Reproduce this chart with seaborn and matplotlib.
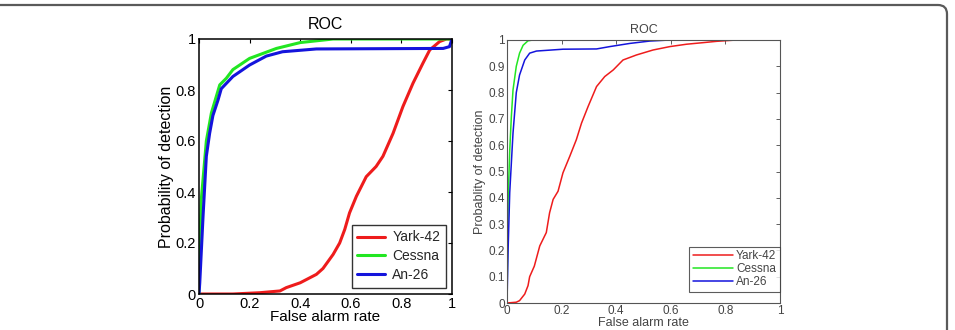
import numpy as np
import pandas as pd
import matplotlib
matplotlib.use("Agg")
import matplotlib.pyplot as plt
import seaborn as sns
from matplotlib.patches import FancyBboxPatch
from matplotlib.transforms import IdentityTransform

# ---------------- data ----------------
series_names = ["Yark-42", "Cessna", "An-26"]
series_colors = ["#ee1c1c", "#22e622", "#1414dc"]

# Left panel
L_yark_x = [0, 0.134, 0.24, 0.32, 0.345, 0.40, 0.464, 0.49, 0.53, 0.556, 0.576, 0.595, 0.622, 0.661, 0.70, 0.727, 0.767, 0.806, 0.846, 0.885, 0.912, 0.951, 0.978, 1.0]
L_yark_y = [0, 0.0, 0.005, 0.012, 0.025, 0.044, 0.077, 0.10, 0.155, 0.20, 0.253, 0.318, 0.383, 0.46, 0.50, 0.54, 0.63, 0.735, 0.827, 0.905, 0.957, 0.99, 1.0, 1.0]
L_cess_x = [0, 0.0, 0.009, 0.029, 0.049, 0.082, 0.108, 0.134, 0.2, 0.306, 0.4, 0.53, 1.0]
L_cess_y = [0, 0.11, 0.37, 0.60, 0.71, 0.82, 0.846, 0.88, 0.924, 0.963, 0.986, 1.0, 1.0]
L_an_x = [0, 0.003, 0.016, 0.029, 0.042, 0.055, 0.075, 0.088, 0.134, 0.2, 0.266, 0.33, 0.464, 0.965, 0.99, 1.0]
L_an_y = [0, 0.044, 0.305, 0.54, 0.63, 0.70, 0.76, 0.805, 0.853, 0.898, 0.933, 0.95, 0.961, 0.963, 0.97, 1.0]

# Right panel
R_yark_x = [0, 0.034, 0.046, 0.065, 0.077, 0.083, 0.10, 0.12, 0.144, 0.156, 0.169, 0.187, 0.205, 0.23, 0.254, 0.273, 0.297, 0.328, 0.358, 0.389, 0.425, 0.474, 0.535, 0.597, 0.658, 0.719, 0.768, 0.84, 1.0]
R_yark_y = [0, 0.003, 0.009, 0.034, 0.066, 0.10, 0.14, 0.217, 0.268, 0.343, 0.394, 0.425, 0.495, 0.558, 0.621, 0.684, 0.747, 0.823, 0.861, 0.886, 0.924, 0.943, 0.962, 0.975, 0.984, 0.99, 0.995, 1.0, 1.0]
R_cess_x = [0, 0.004, 0.01, 0.016, 0.022, 0.034, 0.046, 0.059, 0.077, 0.095, 1.0]
R_cess_y = [0, 0.39, 0.58, 0.71, 0.81, 0.90, 0.95, 0.98, 0.997, 1.0, 1.0]
R_an_x = [0, 0.004, 0.01, 0.022, 0.034, 0.046, 0.065, 0.083, 0.108, 0.205, 0.328, 0.377, 0.45, 0.523, 0.597, 1.0]
R_an_y = [0, 0.2, 0.42, 0.646, 0.80, 0.867, 0.924, 0.95, 0.958, 0.965, 0.966, 0.975, 0.987, 0.996, 1.0, 1.0]

left_xticks = [0, 0.2, 0.4, 0.6, 0.8, 1]
left_yticks = [0, 0.2, 0.4, 0.6, 0.8, 1]
right_xticks = [0, 0.2, 0.4, 0.6, 0.8, 1]
right_yticks = [0, 0.1, 0.2, 0.3, 0.4, 0.5, 0.6, 0.7, 0.8, 0.9, 1]


def fmt(v):
    return "%g" % v


def make_df(xs, ys):
    rows = []
    for name, x, y in zip(series_names, xs, ys):
        for i, (a, b) in enumerate(zip(x, y)):
            rows.append({"series": name, "x": a, "y": b, "order": i})
    return pd.DataFrame(rows)


dfL = make_df([L_yark_x, L_cess_x, L_an_x], [L_yark_y, L_cess_y, L_an_y])
dfR = make_df([R_yark_x, R_cess_x, R_an_x], [R_yark_y, R_cess_y, R_an_y])

sns.set_theme(style="white")
plt.rcParams["font.family"] = ["Liberation Sans", "DejaVu Sans"]

fig = plt.figure(figsize=(9.55, 3.30), dpi=100)
fig.patch.set_facecolor("white")

palette = dict(zip(series_names, series_colors))

# ---------------- left panel ----------------
axL = fig.add_axes([199 / 955, 1 - 294 / 330, 253 / 955, 255 / 330])
sns.lineplot(data=dfL, x="x", y="y", hue="series", palette=palette, sort=False,
             estimator=None, units="series", linewidth=2.2, ax=axL, legend=True)
axL.set_xlim(0, 1)
axL.set_ylim(0, 1)
axL.set_xticks(left_xticks)
axL.set_xticklabels([fmt(v) for v in left_xticks])
axL.set_yticks(left_yticks)
axL.set_yticklabels([fmt(v) for v in left_yticks])
axL.tick_params(direction="in", length=3, width=0.8, top=True, right=True,
                labelsize=10.5, colors="black", pad=2.5)
axL.set_xlabel("False alarm rate", fontsize=11, labelpad=-1, color="black")
axL.set_ylabel("Probability of detection", fontsize=11.5, labelpad=1, color="black")
axL.set_title("ROC", fontsize=11.5, pad=7, color="black")
for s in axL.spines.values():
    s.set_visible(True)
    s.set_color("black")
    s.set_linewidth(1.1)
legL = axL.legend(loc="lower right", fontsize=10, frameon=True, fancybox=False,
                  edgecolor="black", handlelength=2.0, borderpad=0.4,
                  labelspacing=0.35, handletextpad=0.5, borderaxespad=0.45)
legL.get_frame().set_linewidth(1.0)

# ---------------- right panel ----------------
gray = "#444444"
axR = fig.add_axes([507 / 955, 1 - 303 / 330, 273 / 955, 263 / 330])
sns.lineplot(data=dfR, x="x", y="y", hue="series", palette=palette, sort=False,
             estimator=None, units="series", linewidth=1.1, ax=axR, legend=True)
axR.set_xlim(0, 1)
axR.set_ylim(0, 1)
axR.set_xticks(right_xticks)
axR.set_xticklabels([fmt(v) for v in right_xticks])
axR.set_yticks(right_yticks)
axR.set_yticklabels([fmt(v) for v in right_yticks])
axR.tick_params(direction="in", length=3, width=0.6, top=True, right=True,
                labelsize=8.5, colors=gray, pad=1.5)
axR.set_xlabel("False alarm rate", fontsize=9, labelpad=0, color=gray)
axR.set_ylabel("Probablity of detection", fontsize=9, labelpad=2, color=gray)
axR.set_title("ROC", fontsize=9, pad=5, color=gray)
for s in axR.spines.values():
    s.set_visible(True)
    s.set_color("#555555")
    s.set_linewidth(0.8)
legR = axR.legend(loc="lower right", bbox_to_anchor=(1.0, 11 / 263),
                  fontsize=8.5, frameon=True, fancybox=False,
                  edgecolor="#333333", handlelength=3.4, borderpad=0.3,
                  labelspacing=0.1, handletextpad=0.3, borderaxespad=0.0)
legR.get_frame().set_linewidth(0.8)
for t in legR.get_texts():
    t.set_color(gray)

# ---------------- surrounding frame ----------------
frame = FancyBboxPatch((-30, -30), 977, 355,
                       boxstyle="round,pad=0,rounding_size=9",
                       transform=IdentityTransform(), fill=False,
                       edgecolor="#5a5a5a", linewidth=1.6)
fig.patches.append(frame)

fig.savefig("out.png", dpi=100, facecolor="white")
